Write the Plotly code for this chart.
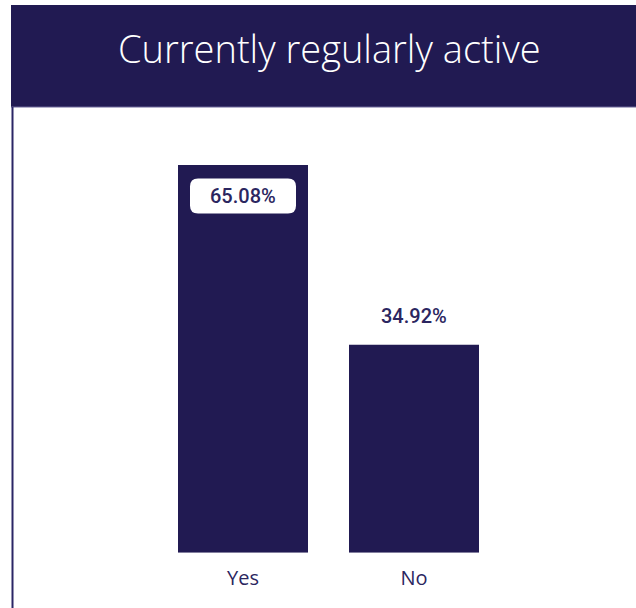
import plotly.graph_objects as go

# Survey answers and their share of respondents (%)
categories = ["Yes", "No"]
shares = [65.08, 34.92]
title_text = "Currently regularly active"

NAVY = "#211a52"
TEXT_NAVY = "#2b2660"

W, H = 636, 608
# plot-area geometry in pixels
PLOT_L, PLOT_R = 12, 636
PLOT_T, PLOT_B = 107, 552.7
CAT_STEP_PX = 171.0          # distance between category centres
FIRST_CAT_PX = 243.0         # centre of first category
BAR_PX = 130.0

x0 = -(FIRST_CAT_PX - PLOT_L) / CAT_STEP_PX
x1 = x0 + (PLOT_R - PLOT_L) / CAT_STEP_PX
ppu = 387.7 / 65.08           # pixels per percentage point
y_top = (PLOT_B - PLOT_T) / ppu

fig = go.Figure(go.Bar(
    x=categories, y=shares,
    marker=dict(color=NAVY, line=dict(width=0)),
    width=BAR_PX / CAT_STEP_PX,
    hoverinfo="x+y",
))

shapes = [
    # title banner
    dict(type="rect", xref="paper", yref="paper",
         x0=11 / W, x1=1, y0=1 - 107 / H, y1=1 - 5 / H,
         fillcolor=NAVY, line=dict(width=0), layer="below"),
    dict(type="line", xref="paper", yref="paper",
         x0=11 / W, x1=1, y0=1 - 107 / H, y1=1 - 107 / H,
         line=dict(color="#6b6498", width=1)),
    # left frame line
    dict(type="line", xref="paper", yref="paper",
         x0=12.5 / W, x1=12.5 / W, y0=0, y1=1 - 107 / H,
         line=dict(color="#2b2666", width=2)),
]

annotations = [
    dict(text=title_text, xref="paper", yref="paper",
         x=329 / W, y=1 - 48 / H, xanchor="center", yanchor="middle",
         showarrow=False,
         font=dict(family="Open Sans", size=38, color="white", weight=350)),
]

def rounded_box(cx, cy, hw, hh, rx, ry):
    """SVG path of a rounded rectangle in data coordinates."""
    l, r, b, t = cx - hw, cx + hw, cy - hh, cy + hh
    return (f"M {l + rx},{t} L {r - rx},{t} Q {r},{t} {r},{t - ry} "
            f"L {r},{b + ry} Q {r},{b} {r - rx},{b} L {l + rx},{b} "
            f"Q {l},{b} {l},{b + ry} L {l},{t - ry} Q {l},{t} {l + rx},{t} Z")

label_font = dict(family="Roboto", size=20, color=TEXT_NAVY, weight=500)
largest = max(shares)
for i, (cat, v) in enumerate(zip(categories, shares)):
    label = f"{v:.2f}%"
    if v == largest:
        # label sits inside the bar on a white rounded tag
        cy = v - 31 / ppu
        fig_path = rounded_box(i, cy, 53 / CAT_STEP_PX, 17.5 / ppu,
                               8 / CAT_STEP_PX, 8 / ppu)
        shapes.append(dict(type="path", xref="x", yref="y", path=fig_path,
                           fillcolor="white", line=dict(width=0)))
        annotations.append(dict(x=cat, y=cy, xref="x", yref="y", text=label,
                                showarrow=False, yanchor="middle",
                                font=label_font))
    else:
        annotations.append(dict(x=cat, y=v, xref="x", yref="y", text=label,
                                showarrow=False, yanchor="middle", yshift=29,
                                font=label_font))

fig.update_layout(
    width=W, height=H,
    margin=dict(l=0, r=0, t=0, b=0),
    paper_bgcolor="white", plot_bgcolor="white",
    showlegend=False,
    shapes=shapes, annotations=annotations,
    xaxis=dict(domain=[PLOT_L / W, PLOT_R / W], range=[x0, x1],
               showgrid=False, zeroline=False, showline=False, ticks="",
               tickfont=dict(family="Open Sans", size=20, color=TEXT_NAVY),
               ticklabelstandoff=11),
    yaxis=dict(domain=[1 - PLOT_B / H, 1 - PLOT_T / H], range=[0, y_top],
               visible=False),
)

fig.write_html("out.html")
